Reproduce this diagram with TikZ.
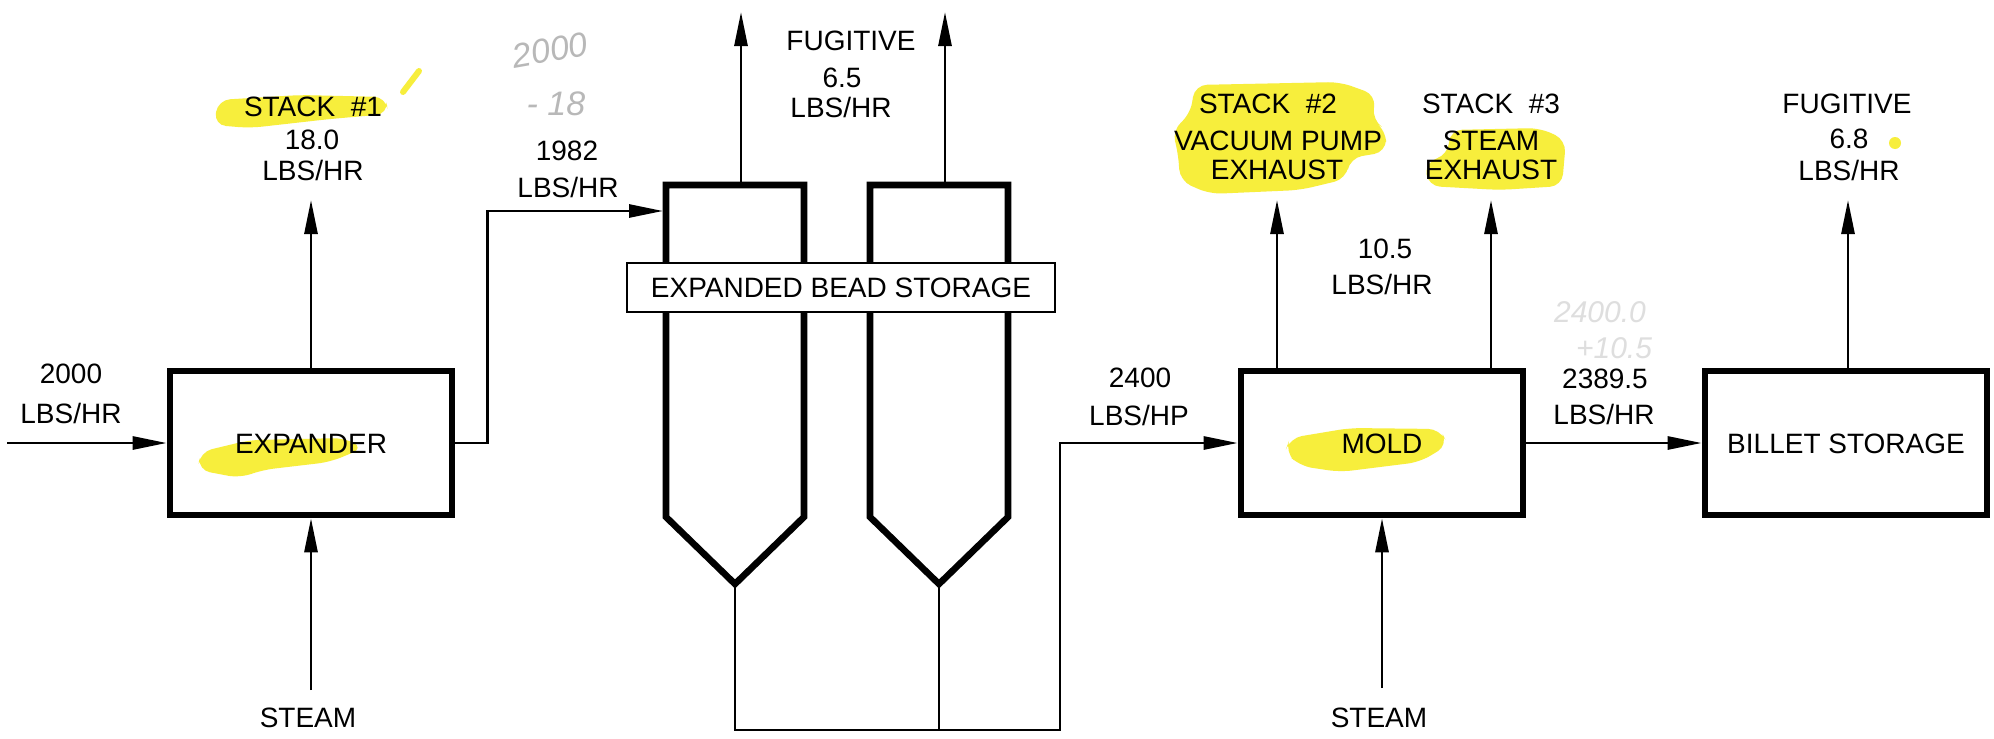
\documentclass[tikz,border=0pt]{standalone}
\usepackage{fontspec}
\setmainfont{Liberation Sans}
\usetikzlibrary{arrows.meta}
\definecolor{hlyellow}{RGB}{247,238,60}
\begin{document}
\begin{tikzpicture}[x=0.5pt,y=-0.5pt,
  heavy/.style={line width=3.3pt},
  light/.style={line width=1.4pt},
  flow/.style={light,-{Triangle[length=17pt,width=6.5pt]}},
  lbl/.style={font=\fontsize{14}{16}\selectfont, inner sep=0pt, text height=10pt, text depth=0pt},
  unit/.style={draw, heavy, minimum width=141pt, minimum height=72pt, inner sep=0pt, lbl},
  hl/.style={fill=hlyellow, rounded corners=6pt},
  pencil/.style={font=\fontsize{17}{19}\selectfont\itshape, text=black!28, inner sep=0pt},
  faint/.style={font=\fontsize{15}{17}\selectfont\itshape, text=black!13, inner sep=0pt}]
\useasboundingbox (0,0) rectangle (1994,739);
\fill[white] (0,0) rectangle (1994,739);

% marker highlights
\fill[hl] (218,100) -- (300,95) -- (386,97) -- (388,114) -- (330,119) -- (250,128) -- (214,125) -- cycle;
\draw[hlyellow, line width=3pt, line cap=round] (403,92) -- (419,71);
\fill[hl] (200,452) -- (250,440) -- (345,438) -- (364,448) -- (330,462) -- (262,470) -- (240,478) -- (198,470) -- cycle;
\fill[hl] (1195,85) -- (1340,82) -- (1376,95) -- (1372,120) -- (1386,130) -- (1386,152) -- (1350,158) -- (1346,179) -- (1300,190) -- (1210,194) -- (1180,181) -- (1178,152) -- (1172,130) -- (1190,115) -- cycle;
\fill[hl] (1450,130) -- (1540,128) -- (1566,140) -- (1562,186) -- (1500,190) -- (1428,186) -- (1425,162) -- (1448,155) -- cycle;
\fill[hl] (1290,438) -- (1350,428) -- (1440,429) -- (1448,445) -- (1420,462) -- (1340,472) -- (1300,466) -- (1285,452) -- cycle;
\fill[hlyellow] (1895,143) circle (3pt);

% pencil notes
\node[pencil, rotate=10] (pn1) at (550,50) {2000};
\node[pencil] (pn2) at (556,104) {- 18};
\node[faint] (pn3) at (1600,312) {2400.0};
\node[faint] (pn4) at (1614,348) {+10.5};

% process units
\node[unit] (exp) at (311,443) {EXPANDER};
\node[unit] (mold) at (1382,443) {MOLD};
\node[unit] (bill) at (1846,443) {BILLET STORAGE};

% silos
\coordinate (vL) at (735,584);
\coordinate (vR) at (939,584);
\draw[heavy, line join=miter] (666,517) -- (666,185) -- (804,185) -- (804,517) -- (vL) -- cycle;
\draw[heavy, line join=miter] (870,517) -- (870,185) -- (1008,185) -- (1008,517) -- (vR) -- cycle;
\node[draw, light, fill=white, minimum width=214pt, minimum height=24.5pt, lbl] (ebs) at (841,287.5) {EXPANDED BEAD STORAGE};

% connectors
\coordinate (inS) at (7,443);
\draw[flow] (inS) -- (exp.west);
\coordinate (st1) at (311,690);
\draw[flow] (st1) -- (exp.south);
\coordinate (stk1) at (311,200);
\draw[flow] (exp.north) -- (stk1);
\coordinate (s1in) at (663,211);
\draw[flow] (exp.east) -- ++(32,0) |- (s1in);
\coordinate (tL) at (741,183);
\coordinate (f1) at (741,12);
\draw[flow] (tL) -- (f1);
\coordinate (tR) at (945,183);
\coordinate (f2) at (945,12);
\draw[flow] (tR) -- (f2);
\coordinate (j2) at (1060,730);
\draw[flow] (vL) |- (j2) |- (mold.west);
\draw[light] (vR) -- (vR |- j2);
\coordinate (stk2) at (1277,200);
\draw[flow] (mold.north -| stk2) -- (stk2);
\coordinate (stk3) at (1491,200);
\draw[flow] (mold.north -| stk3) -- (stk3);
\draw[flow] (mold.east) -- (bill.west);
\coordinate (fug2) at (1848,200);
\draw[flow] (bill.north -| fug2) -- (fug2);
\coordinate (st2) at (1382,688);
\draw[flow] (st2) -- (mold.south);

% labels
\node[lbl] (l1a) at (313,106) {STACK\ \ \#1};
\node[lbl] (l1b) at (312,139) {18.0};
\node[lbl] (l1c) at (313,170) {LBS/HR};
\node[lbl] (l2a) at (71,373) {2000};
\node[lbl] (l2b) at (71,413) {LBS/HR};
\node[lbl] (l3a) at (567,150) {1982};
\node[lbl] (l3b) at (568,187) {LBS/HR};
\node[lbl] (l4a) at (851,40) {FUGITIVE};
\node[lbl] (l4b) at (842,77) {6.5};
\node[lbl] (l4c) at (841,107) {LBS/HR};
\node[lbl] (l5a) at (1268,103) {STACK\ \ \#2};
\node[lbl] (l5b) at (1278,140) {VACUUM PUMP};
\node[lbl] (l5c) at (1277,169) {EXHAUST};
\node[lbl] (l6a) at (1491,103) {STACK\ \ \#3};
\node[lbl] (l6b) at (1491,140) {STEAM};
\node[lbl] (l6c) at (1491,169) {EXHAUST};
\node[lbl] (l7a) at (1385,248) {10.5};
\node[lbl] (l7b) at (1382,284) {LBS/HR};
\node[lbl] (l8a) at (1140,377) {2400};
\node[lbl] (l8b) at (1139,415) {LBS/HP};
\node[lbl] (l9a) at (1605,378) {2389.5};
\node[lbl] (l9b) at (1604,414) {LBS/HR};
\node[lbl] (l10a) at (1847,103) {FUGITIVE};
\node[lbl] (l10b) at (1849,138) {6.8};
\node[lbl] (l10c) at (1849,170) {LBS/HR};
\node[lbl] (l11) at (308,717) {STEAM};
\node[lbl] (l12) at (1379,717) {STEAM};
\end{tikzpicture}
\end{document}
